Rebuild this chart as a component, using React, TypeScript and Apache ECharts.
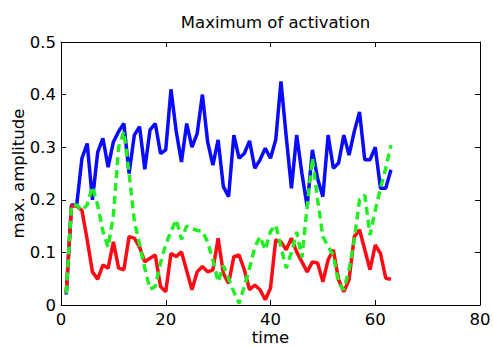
import React, { useEffect, useRef } from "react";
import * as echarts from "echarts";

const titleText = "Maximum of activation";
const xTicks = [0, 20, 40, 60, 80];
const yTicks = [0, 0.1, 0.2, 0.3, 0.4, 0.5];

const blue = [
  0.02, 0.19, 0.19, 0.279, 0.307, 0.2, 0.29, 0.317, 0.262, 0.31,
  0.33, 0.345, 0.25, 0.323, 0.339, 0.258, 0.333, 0.345, 0.288, 0.295,
  0.41, 0.33, 0.272, 0.345, 0.3, 0.326, 0.4, 0.31, 0.266, 0.314,
  0.225, 0.206, 0.323, 0.279, 0.288, 0.312, 0.26, 0.276, 0.298, 0.279,
  0.314, 0.425, 0.32, 0.222, 0.323, 0.25, 0.187, 0.295, 0.24, 0.206,
  0.323, 0.26, 0.27, 0.323, 0.285, 0.33, 0.367, 0.276, 0.276, 0.3,
  0.222, 0.222, 0.257,
];

const red = [
  0.022, 0.188, 0.188, 0.18, 0.124, 0.063, 0.049, 0.076, 0.07, 0.12,
  0.07, 0.067, 0.13, 0.127, 0.11, 0.082, 0.089, 0.095, 0.035, 0.025,
  0.098, 0.092, 0.101, 0.065, 0.029, 0.063, 0.073, 0.063, 0.067, 0.127,
  0.06, 0.041, 0.092, 0.095, 0.067, 0.029, 0.038, 0.029, 0.01, 0.032,
  0.124, 0.12, 0.105, 0.127, 0.101, 0.082, 0.063, 0.082, 0.08, 0.044,
  0.086, 0.105, 0.048, 0.025, 0.048, 0.13, 0.143, 0.105, 0.067, 0.114,
  0.098, 0.051, 0.049,
];

const green = [
  0.022, 0.19, 0.19, 0.18, 0.19, 0.225, 0.19, 0.14, 0.11, 0.17,
  0.3, 0.33, 0.25, 0.16, 0.115, 0.07, 0.03, 0.035, 0.08, 0.115,
  0.14, 0.162, 0.125, 0.15, 0.145, 0.142, 0.14, 0.12, 0.085, 0.044,
  0.075, 0.05, 0.025, 0.003, 0.035, 0.07, 0.11, 0.13, 0.105, 0.14,
  0.152, 0.11, 0.07, 0.1, 0.139, 0.09, 0.187, 0.279, 0.2, 0.13,
  0.111, 0.095, 0.041, 0.029, 0.067, 0.124, 0.2, 0.209, 0.133, 0.18,
  0.222, 0.26, 0.304,
];

const toPairs = (arr: number[]) => arr.map((v, i) => [i + 1, v]);

const FONT = "DejaVu Sans";
const FS = 16.5;

export default function App() {
  const ref = useRef<HTMLDivElement>(null);
  useEffect(() => {
    if (!ref.current) return;
    const chart = echarts.init(ref.current, null, { renderer: "svg" });
    const axisCommon = {
      type: "value" as const,
      axisLine: { show: true, onZero: false, lineStyle: { color: "#000", width: 1 } },
      axisTick: { show: true, inside: true, length: 5, lineStyle: { color: "#000", width: 1 } },
      splitLine: { show: false },
    };
    chart.setOption({
      animation: false,
      backgroundColor: "#fff",
      title: {
        text: titleText,
        left: 270.5,
        top: 9,
        textAlign: "center",
        textStyle: { fontFamily: FONT, fontSize: FS, fontWeight: "normal", color: "#000" },
      },
      grid: {
        left: 61,
        right: 13,
        top: 42,
        bottom: 42,
        containLabel: false,
        outerBoundsMode: "none",
      },
      xAxis: [
        {
          ...axisCommon,
          position: "bottom",
          min: xTicks[0],
          max: xTicks[xTicks.length - 1],
          interval: 20,
          name: "time",
          nameLocation: "middle",
          nameGap: 24,
          nameMoveOverlap: false,
          nameTextStyle: { fontFamily: FONT, fontSize: FS, lineHeight: 17, color: "#000" },
          axisLabel: { fontFamily: FONT, fontSize: FS, lineHeight: 16, color: "#000", margin: 6 },
        },
        {
          ...axisCommon,
          position: "top",
          min: xTicks[0],
          max: xTicks[xTicks.length - 1],
          interval: 20,
          axisLabel: { show: false },
        },
      ],
      yAxis: [
        {
          ...axisCommon,
          position: "left",
          min: yTicks[0],
          max: yTicks[yTicks.length - 1],
          interval: 0.1,
          name: "max. amplitude",
          nameLocation: "middle",
          nameGap: 34,
          nameMoveOverlap: false,
          nameTextStyle: { fontFamily: FONT, fontSize: FS, color: "#000" },
          axisLabel: { fontFamily: FONT, fontSize: FS, color: "#000", margin: 5 },
        },
        {
          ...axisCommon,
          position: "right",
          min: yTicks[0],
          max: yTicks[yTicks.length - 1],
          interval: 0.1,
          axisLabel: { show: false },
        },
      ],
      series: [
        {
          type: "line",
          data: toPairs(blue),
          showSymbol: false,
          symbol: "none",
          lineStyle: { color: "#0a0aff", width: 3.5 },
        },
        {
          type: "line",
          data: toPairs(red),
          showSymbol: false,
          symbol: "none",
          lineStyle: { color: "#ff0a14", width: 3.5 },
        },
        {
          type: "line",
          data: toPairs(green),
          showSymbol: false,
          symbol: "none",
          lineStyle: { color: "#22ee22", width: 3.5, type: [8, 5] },
        },
      ],
    });
    return () => chart.dispose();
  }, []);
  return (
    <div
      ref={ref}
      style={{ position: "fixed", left: 0, top: 0, width: 493, height: 347, background: "#fff" }}
    />
  );
}
